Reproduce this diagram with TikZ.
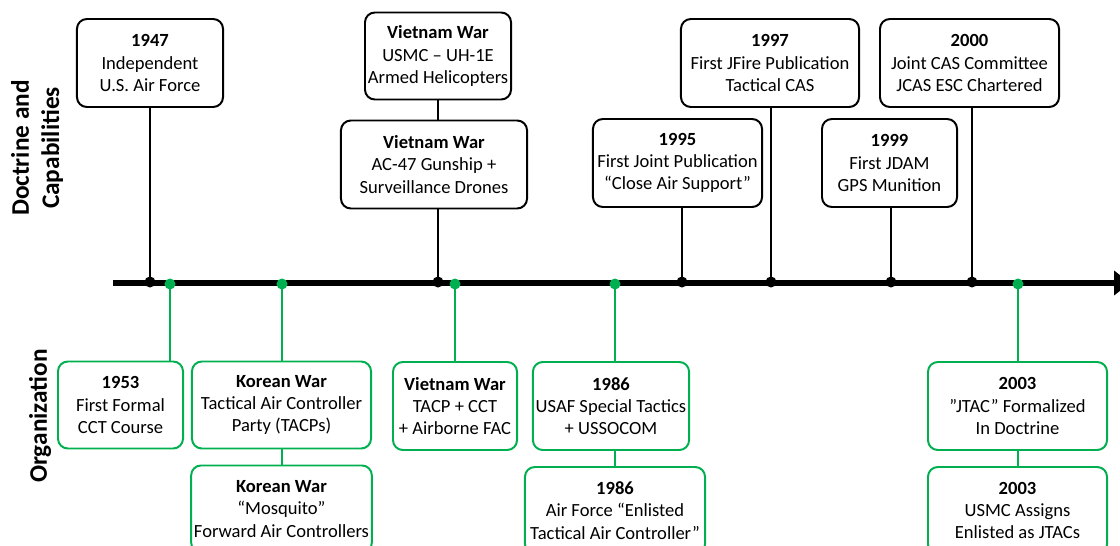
\documentclass[tikz,border=0pt]{standalone}
\usepackage{fontspec}
\setmainfont{Carlito}
\usepackage{tikz}
\usetikzlibrary{arrows.meta,positioning}

\begin{document}
\begin{tikzpicture}[
  x=0.025cm, y=-0.025cm,
  node distance=0.375cm,
  tDoc/.style={rectangle, rounded corners=7pt,
    minimum height=2.2cm, inner sep=2pt,
    align=center, draw=black, fill=white,
    line width=1.4pt, font=\fontsize{13.2}{15.8}\selectfont},
  tOrg/.style={tDoc,
    draw={rgb,255:red,0;green,176;blue,80}},
  lane/.style={rotate=90, align=center,
    font=\fontsize{18}{21.5}\selectfont\bfseries},
  dArr/.style={line width=0.8pt, draw=black},
  oArr/.style={line width=1pt,
    draw={rgb,255:red,0;green,176;blue,80}},
  dDot/.style={fill=black},
  oDot/.style={fill={rgb,255:red,0;green,176;blue,80}},
  axis/.style={line width=4.3pt,
    -{Triangle[length=0.4cm,width=0.6cm]}},
]
  \useasboundingbox (0,0) rectangle (1120,546);

  %% ── Lane labels ─────────────────────────────────────────────
  \node[lane] (doclbl) at (37,148) {Doctrine and\\Capabilities};
  \node[lane] (orglbl) at (40,416) {Organization};

  %% ── Time axis ───────────────────────────────────────────────
  \coordinate (ax0) at (113,283);
  \coordinate (ax1) at (1130,283);
  \draw[axis] (ax0) -- (ax1);

  %% ── Doctrine and capabilities (above) ───────────────────────
  \node[tDoc, minimum width=3.65cm] (y1947) at (150,63) {%
    \textbf{1947}\\Independent\\U.S. Air Force};
  \node[tDoc, minimum width=3.65cm, minimum height=2.175cm]
    (vnHelo) at (438,56) {%
    \textbf{Vietnam War}\\USMC – UH-1E\\Armed Helicopters};
  \node[tDoc, minimum width=4.65cm, below=0.475cm of vnHelo,
    xshift=-0.1cm] (vnGun) {%
    \textbf{Vietnam War}\\AC-47 Gunship +\\Surveillance  Drones};
  \node[tDoc, minimum width=4.225cm] (y1995) at (677.5,163) {%
    \textbf{1995}\\First Joint  Publication\\“Close  Air Support”};
  \node[tDoc, minimum width=4.45cm] (y1997) at (770,63) {%
    \textbf{1997}\\First JFire  Publication\\Tactical CAS};
  \node[tDoc, minimum width=3.375cm] (y1999) at (889.5,163) {%
    \textbf{1999}\\First JDAM\\GPS Munition};
  \node[tDoc, minimum width=4.475cm] (y2000) at (969.5,63) {%
    \textbf{2000}\\Joint  CAS Committee\\JCAS  ESC Chartered};

  %% ── Organization (below) ────────────────────────────────────
  \node[tOrg, minimum width=3.125cm, minimum height=2.175cm]
    (y1953) at (120.5,405) {%
    \textbf{1953}\\First Formal\\CCT  Course};
  \node[tOrg, minimum width=4.475cm, minimum height=2.175cm]
    (krTacp) at (281.5,405) {%
    \textbf{Korean War}\\Tactical Air  Controller\\Party (TACPs)};
  \node[tOrg, minimum width=4.475cm, minimum height=2.175cm,
    below=0.375cm of krTacp] (krFac) {%
    \textbf{Korean War}\\“Mosquito”\\Forward Air Controllers};
  \node[tOrg, minimum width=3.1cm] (vnTacp) at (455,406) {%
    \textbf{Vietnam War}\\TACP + CCT\\+ Airborne  FAC};
  \node[tOrg, minimum width=3.9cm] (y1986a) at (611,406) {%
    \textbf{1986}\\USAF Special Tactics\\+ USSOCOM};
  \node[tOrg, minimum width=4.5cm, minimum height=2.175cm,
    below=0.375cm of y1986a, xshift=0.1cm] (y1986b) {%
    \textbf{1986}\\Air Force “Enlisted\\Tactical Air Controller”};
  \node[tOrg, minimum width=4.475cm] (y2003a) at (1017.5,406) {%
    \textbf{2003}\\”JTAC” Formalized\\In Doctrine};
  \node[tOrg, minimum width=4.475cm, minimum height=2.175cm,
    below=0.375cm of y2003a] (y2003b) {%
    \textbf{2003}\\USMC Assigns\\Enlisted as JTACs};

  %% ── Axis marks ──────────────────────────────────────────────
  \foreach \n/\x in {d1947/150, dVn/438, d1995/682, d1997/771,
                     d1999/891, d2000/972}
    \coordinate (\n) at (\x,282);
  \foreach \n/\x in {o1953/170, oKr/282, oVn/455, o1986/615,
                     o2003/1018}
    \coordinate (\n) at (\x,284);

  %% ── Connectors ──────────────────────────────────────────────
  \foreach \f/\t in {y1947/d1947, vnGun/dVn, y1995/d1995,
                     y1997/d1997, y1999/d1999, y2000/d2000}
    \draw[dArr] (\t |- \f.south) -- (\t);
  \draw[dArr] (dVn |- vnHelo.south) -- (dVn |- vnGun.north);

  \foreach \f/\t in {o1953/y1953, oKr/krTacp, oVn/vnTacp,
                     o1986/y1986a, o2003/y2003a}
    \draw[oArr] (\f) -- (\f |- \t.north);
  \draw[oArr] (oKr |- krTacp.south) -- (oKr |- krFac.north);
  \draw[oArr] (o1986 |- y1986a.south) -- (o1986 |- y1986b.north);
  \draw[oArr] (o2003 |- y2003a.south) -- (o2003 |- y2003b.north);

  \foreach \n in {d1947, dVn, d1995, d1997, d1999, d2000}
    \fill[dDot] (\n) circle (5.5);
  \foreach \n in {o1953, oKr, oVn, o1986, o2003}
    \fill[oDot] (\n) circle (5.5);

\end{tikzpicture}
\end{document}
